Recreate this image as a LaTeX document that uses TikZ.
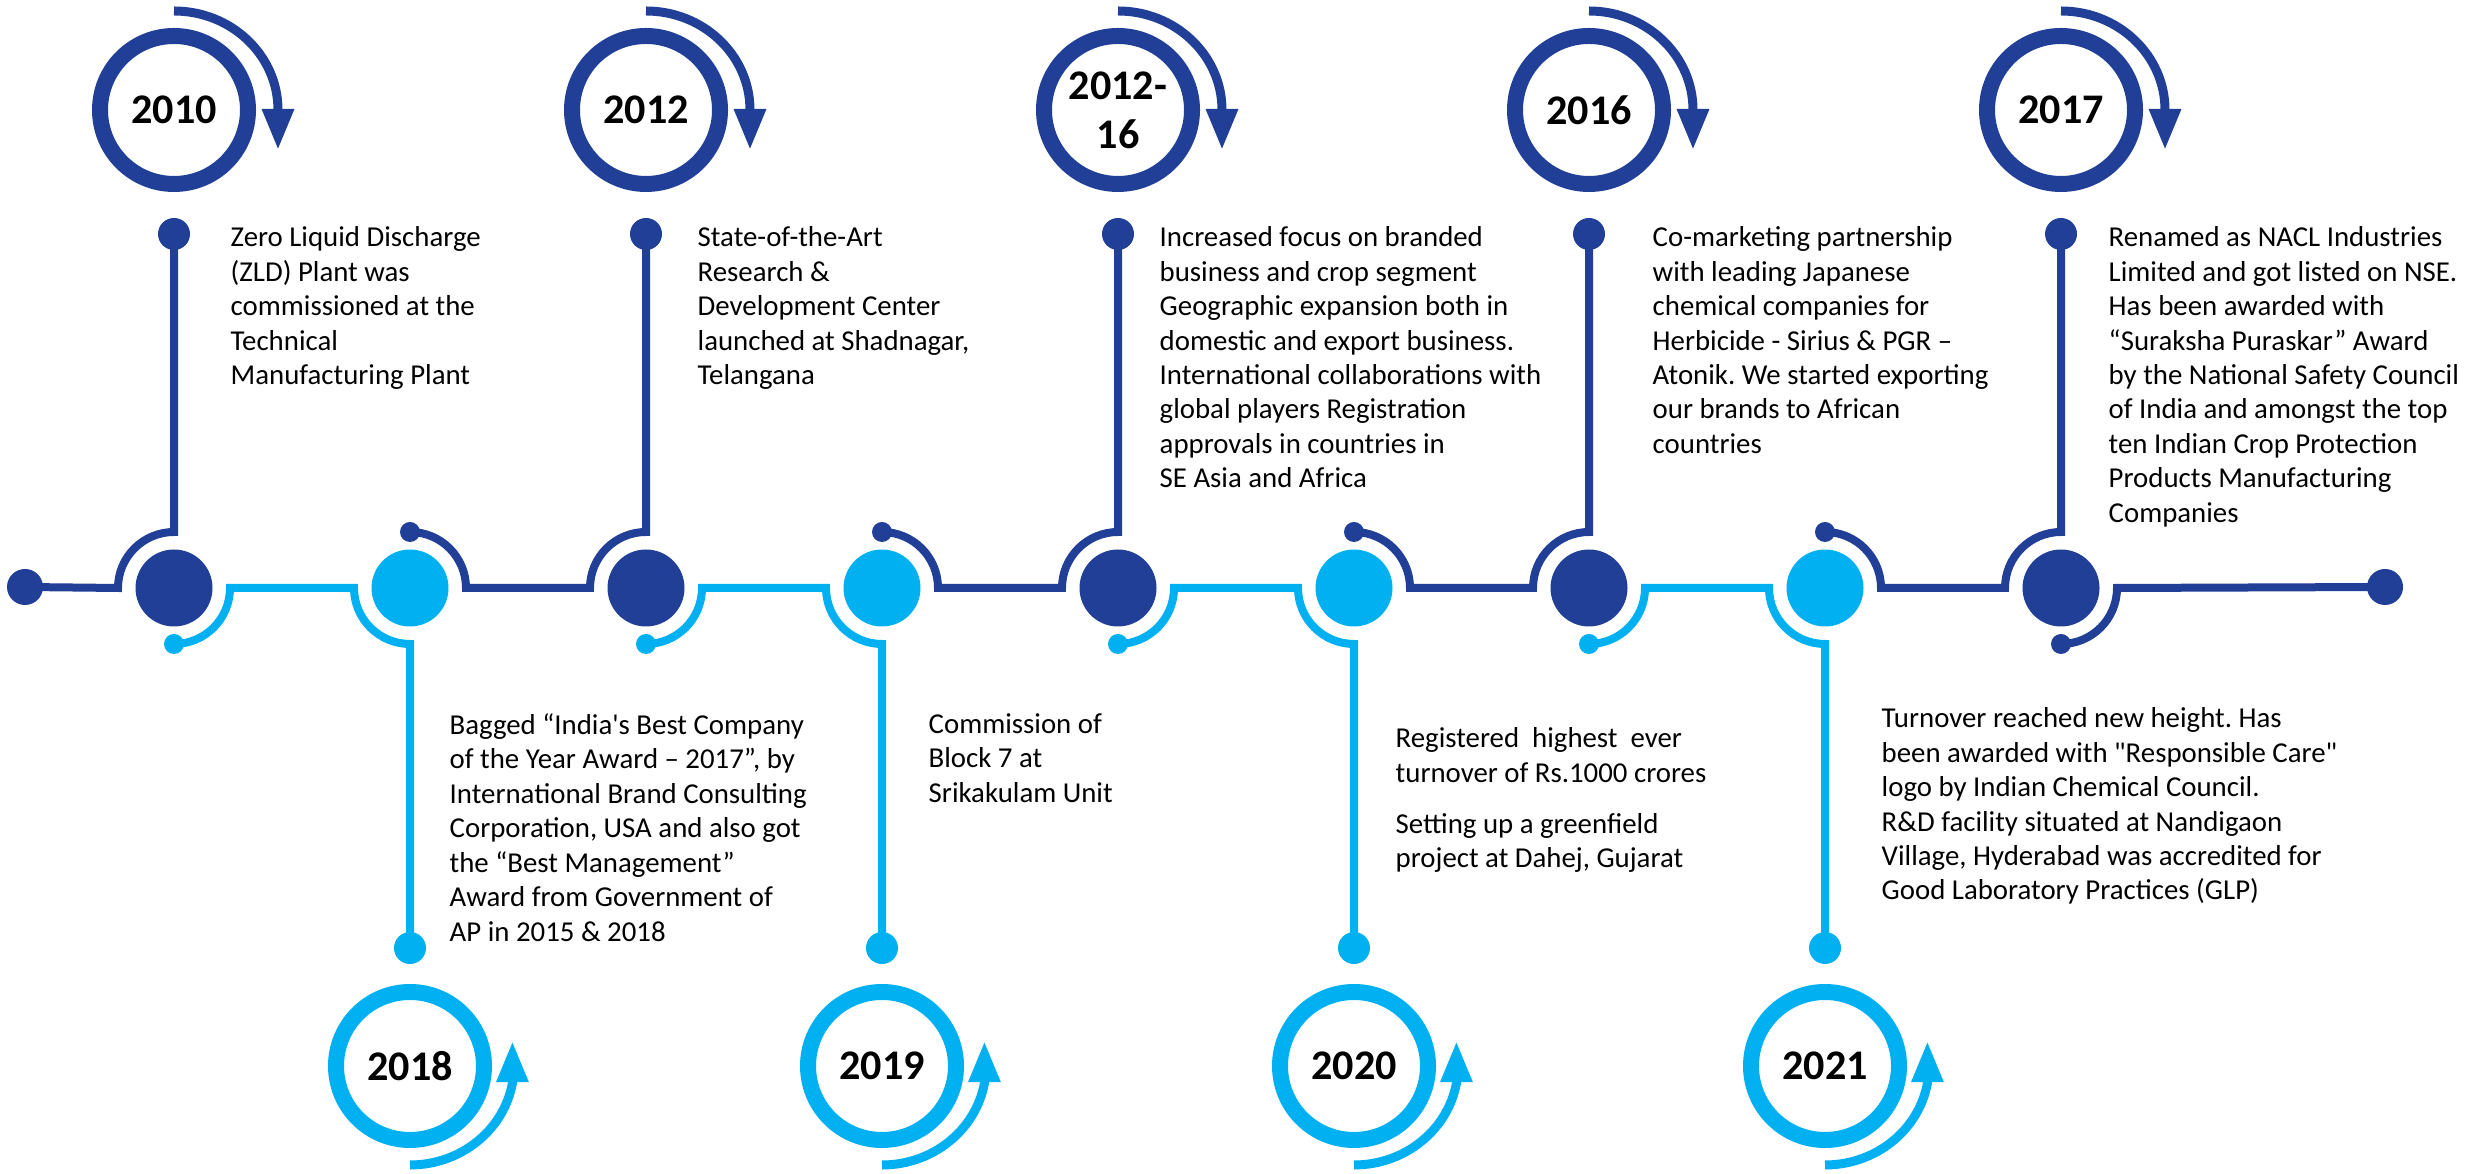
\documentclass[tikz,border=0pt]{standalone}
\usepackage{fontspec}
\setmainfont{Carlito}[Ligatures=TeXOff]
\usepackage{tikz}
\usetikzlibrary{arrows.meta,positioning,calc}

\definecolor{nacldark}{RGB}{34,63,151}
\definecolor{nacllight}{RGB}{0,176,240}
\frenchspacing

\begin{document}
\begin{tikzpicture}[
    x=0.1mm, y=0.1mm,
    hubdark/.style={circle, fill=nacldark, minimum size=7.7mm, inner sep=0pt},
    hublight/.style={circle, fill=nacllight, minimum size=7.7mm, inner sep=0pt},
    pindark/.style={circle, fill=nacldark, minimum size=3.2mm, inner sep=0pt},
    pinlight/.style={circle, fill=nacllight, minimum size=3.2mm, inner sep=0pt},
    knobdark/.style={circle, fill=nacldark, minimum size=2mm, inner sep=0pt},
    knoblight/.style={circle, fill=nacllight, minimum size=2mm, inner sep=0pt},
    enddot/.style={circle, fill=nacldark, minimum size=3.6mm, inner sep=0pt},
    ringdark/.style={circle, draw=nacldark, line width=1.6mm, minimum size=14.8mm,
                inner sep=0pt, align=center, font=\bfseries\fontsize{12}{14}\selectfont},
    ringlight/.style={ringdark, draw=nacllight},
    note/.style={anchor=north west, align=left, inner sep=0pt,
                font=\fontsize{8.2}{9.8}\selectfont},
    darkline/.style={draw=nacldark, line width=0.8mm},
    lightline/.style={draw=nacllight, line width=0.8mm},
    turndark/.style={draw=nacldark, line width=0.9mm, -{Triangle[width=3mm,length=4.1mm]}},
    turnlight/.style={draw=nacllight, line width=0.9mm, -{Triangle[width=3mm,length=4.1mm]}}
]
\useasboundingbox (0,0) rectangle (2483,1174);

% hubs on the time line
\node[hubdark] (hub10) at (174,586) {};
\node[hublight] (hub18) at (410,586) {};
\node[hubdark] (hub12) at (646,586) {};
\node[hublight] (hub19) at (882,586) {};
\node[hubdark] (hub1216) at (1118,586) {};
\node[hublight] (hub20) at (1354,586) {};
\node[hubdark] (hub16) at (1589,586) {};
\node[hublight] (hub21) at (1825,586) {};
\node[hubdark] (hub17) at (2061,586) {};
\node[enddot] (start) at (25,587) {};
\node[enddot] (finish) at (2385,587) {};

% pins
\node[pindark] (pin10) at (174,940) {};
\node[pindark] (pin12) at (646,940) {};
\node[pindark] (pin1216) at (1118,940) {};
\node[pindark] (pin16) at (1589,940) {};
\node[pindark] (pin17) at (2061,940) {};
\node[pinlight] (pin18) at (410,226) {};
\node[pinlight] (pin19) at (882,226) {};
\node[pinlight] (pin20) at (1354,226) {};
\node[pinlight] (pin21) at (1825,226) {};

% small knobs at the arc ends
\node[knoblight] (knob10) at (174,530) {};
\node[knobdark] (knob18) at (410,642) {};
\node[knoblight] (knob12) at (646,530) {};
\node[knobdark] (knob19) at (882,642) {};
\node[knoblight] (knob1216) at (1118,530) {};
\node[knobdark] (knob20) at (1354,642) {};
\node[knoblight] (knob16) at (1589,530) {};
\node[knobdark] (knob21) at (1825,642) {};
\node[knobdark] (knob17) at (2061,530) {};

% year rings
\node[ringdark] (ring10) at (174,1064) {2010};
\node[ringdark] (ring12) at (646,1064) {2012};
\node[ringdark] (ring1216) at (1118,1064) {2012-\\16};
\node[ringdark] (ring16) at (1589,1064) {2016};
\node[ringdark] (ring17) at (2061,1064) {2017};
\node[ringlight] (ring18) at (410,108) {2018};
\node[ringlight] (ring19) at (882,108) {2019};
\node[ringlight] (ring20) at (1354,108) {2020};
\node[ringlight] (ring21) at (1825,108) {2021};

% turning arrows
\draw[turndark] ($(ring10)+(0,99)$) arc[start angle=90, end angle=0, x radius=104, y radius=99] -- ++(0,-40);
\draw[turndark] ($(ring12)+(0,99)$) arc[start angle=90, end angle=0, x radius=104, y radius=99] -- ++(0,-40);
\draw[turndark] ($(ring1216)+(0,99)$) arc[start angle=90, end angle=0, x radius=104, y radius=99] -- ++(0,-40);
\draw[turndark] ($(ring16)+(0,99)$) arc[start angle=90, end angle=0, x radius=104, y radius=99] -- ++(0,-40);
\draw[turndark] ($(ring17)+(0,99)$) arc[start angle=90, end angle=0, x radius=104, y radius=99] -- ++(0,-40);
\draw[turnlight] ($(ring18)+(0,-99)$) arc[start angle=270, end angle=350, x radius=104, y radius=99] -- ++(0,42);
\draw[turnlight] ($(ring19)+(0,-99)$) arc[start angle=270, end angle=350, x radius=104, y radius=99] -- ++(0,42);
\draw[turnlight] ($(ring20)+(0,-99)$) arc[start angle=270, end angle=350, x radius=104, y radius=99] -- ++(0,42);
\draw[turnlight] ($(ring21)+(0,-99)$) arc[start angle=270, end angle=350, x radius=104, y radius=99] -- ++(0,42);

% dark track
\draw[darkline] (start.center) -- ($(hub10)+(-56,0)$) arc[start angle=180, end angle=90, radius=56] -- (pin10.center);
\draw[darkline] (knob18.center) arc[start angle=90, end angle=0, radius=56] -- ($(hub12)+(-56,0)$) arc[start angle=180, end angle=90, radius=56] -- (pin12.center);
\draw[darkline] (knob19.center) arc[start angle=90, end angle=0, radius=56] -- ($(hub1216)+(-56,0)$) arc[start angle=180, end angle=90, radius=56] -- (pin1216.center);
\draw[darkline] (knob20.center) arc[start angle=90, end angle=0, radius=56] -- ($(hub16)+(-56,0)$) arc[start angle=180, end angle=90, radius=56] -- (pin16.center);
\draw[darkline] (knob21.center) arc[start angle=90, end angle=0, radius=56] -- ($(hub17)+(-56,0)$) arc[start angle=180, end angle=90, radius=56] -- (pin17.center);
\draw[darkline] (knob17.center) arc[start angle=270, end angle=360, radius=56] -- (finish.center);

% light track
\draw[lightline] (knob10.center) arc[start angle=270, end angle=360, radius=56] -- ($(hub18)+(-56,0)$) arc[start angle=180, end angle=270, radius=56] -- (pin18.center);
\draw[lightline] (knob12.center) arc[start angle=270, end angle=360, radius=56] -- ($(hub19)+(-56,0)$) arc[start angle=180, end angle=270, radius=56] -- (pin19.center);
\draw[lightline] (knob1216.center) arc[start angle=270, end angle=360, radius=56] -- ($(hub20)+(-56,0)$) arc[start angle=180, end angle=270, radius=56] -- (pin20.center);
\draw[lightline] (knob16.center) arc[start angle=270, end angle=360, radius=56] -- ($(hub21)+(-56,0)$) arc[start angle=180, end angle=270, radius=56] -- (pin21.center);

% milestone texts
\node[note] (note10) at (230,948) {Zero Liquid Discharge\\(ZLD) Plant was\\commissioned at the\\Technical\\Manufacturing Plant};
\node[note] (note12) at (697,948) {State-of-the-Art\\Research \&\\Development Center\\launched at Shadnagar,\\Telangana};
\node[note] (note1216) at (1159,948) {Increased focus on branded\\business and crop segment\\Geographic expansion both in\\domestic and export business.\\International collaborations with\\global players Registration\\approvals in countries in\\SE Asia and Africa};
\node[note] (note16) at (1652,948) {Co-marketing partnership\\with leading Japanese\\chemical companies for\\Herbicide - Sirius \& PGR –\\Atonik. We started exporting\\our brands to African\\countries};
\node[note] (note17) at (2108,948) {Renamed as NACL Industries\\Limited and got listed on NSE.\\Has been awarded with\\“Suraksha Puraskar” Award\\by the National Safety Council\\of India and amongst the top\\ten Indian Crop Protection\\Products Manufacturing\\Companies};
\node[note] (note18) at (449,461) {Bagged “India's Best Company\\of the Year Award – 2017”, by\\International Brand Consulting\\Corporation, USA and also got\\the “Best Management”\\Award from Government of\\AP in 2015 \& 2018};
\node[note] (note19) at (928,461) {Commission of\\Block 7 at\\Srikakulam Unit};
\node[note] (note20) at (1395,447) {Registered~ highest~ ever\\turnover of Rs.1000 crores\\[4.8pt]Setting up a greenfield\\project at Dahej, Gujarat};
\node[note] (note21) at (1881,467) {Turnover reached new height. Has\\been awarded with "Responsible Care"\\logo by Indian Chemical Council.\\R\&D facility situated at Nandigaon\\Village, Hyderabad was accredited for\\Good Laboratory Practices (GLP)};
\end{tikzpicture}
\end{document}
